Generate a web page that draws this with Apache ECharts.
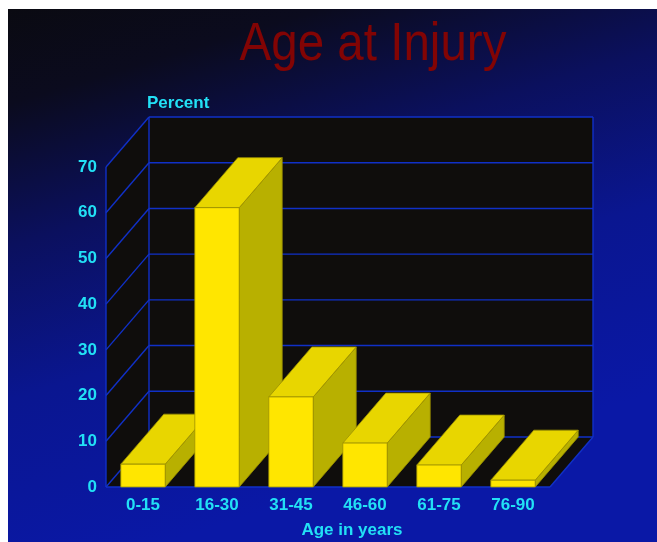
<!DOCTYPE html>
<html lang="en">
<head>
    <meta charset="UTF-8">
    <title>Age at Injury</title>
    <style>
        html, body { margin: 0; padding: 0; background: #fff; }
        #main { width: 657px; height: 542px; }
    </style>
</head>
<body>
<div id="main"></div>
<script src="https://cdn.jsdelivr.net/npm/echarts@6/dist/echarts.min.js"></script>
<script>
    const categories = ['0-15', '16-30', '31-45', '46-60', '61-75', '76-90'];
    const percent = [5, 61.1, 19.7, 9.6, 4.8, 1.5];
    const yTicks = [0, 10, 20, 30, 40, 50, 60, 70];

    // depth of the fake 3d box, in pixels
    const DX = 43, DY = -50;
    const CYAN = '#22e0f5';
    const GRIDBLUE = '#1030c8';
    const LABEL_FONT = '"Liberation Sans", Arial, sans-serif';

    const myChart = echarts.init(document.getElementById('main'));

    // walls, floor and back grid
    function renderWalls(params, api) {
        const band = api.size([1, 0])[0];
        const xl = api.coord([0, 0])[0] - band / 2;
        const xr = api.coord([categories.length - 1, 0])[0] + band / 2;
        const y0 = api.coord([0, yTicks[0]])[1];
        const yTop = api.coord([0, yTicks[yTicks.length - 1]])[1];
        const fill = '#0f0d0c';
        const line = { stroke: GRIDBLUE, lineWidth: 1.4 };
        const children = [
            // back wall
            { type: 'rect', shape: { x: xl + DX, y: yTop + DY, width: xr - xl, height: y0 - yTop }, style: { fill: fill } },
            // side wall
            { type: 'polygon', shape: { points: [[xl, y0], [xl, yTop], [xl + DX, yTop + DY], [xl + DX, y0 + DY]] }, style: { fill: fill } },
            // floor
            { type: 'polygon', shape: { points: [[xl, y0], [xr, y0], [xr + DX, y0 + DY], [xl + DX, y0 + DY]] }, style: { fill: fill } }
        ];
        yTicks.forEach(function (v) {
            const y = api.coord([0, v])[1];
            children.push({ type: 'line', shape: { x1: xl, y1: y, x2: xl + DX, y2: y + DY }, style: line });
            children.push({ type: 'line', shape: { x1: xl + DX, y1: y + DY, x2: xr + DX, y2: y + DY }, style: line });
        });
        children.push({ type: 'line', shape: { x1: xl, y1: y0, x2: xl, y2: yTop }, style: line });
        children.push({ type: 'line', shape: { x1: xl + DX, y1: y0 + DY, x2: xl + DX, y2: yTop + DY }, style: line });
        children.push({ type: 'line', shape: { x1: xr + DX, y1: y0 + DY, x2: xr + DX, y2: yTop + DY }, style: line });
        children.push({ type: 'line', shape: { x1: xl, y1: y0, x2: xr, y2: y0 }, style: line });
        children.push({ type: 'line', shape: { x1: xr, y1: y0, x2: xr + DX, y2: y0 + DY }, style: line });
        return { type: 'group', children: children };
    }

    // one box per category
    function renderBar(params, api) {
        const idx = api.value(0);
        const base = api.coord([idx, 0]);
        const top = api.coord([idx, api.value(1)]);
        const w = api.size([1, 0])[0] * 0.6;
        const x0 = base[0] - w / 2, x1 = base[0] + w / 2;
        const yb = base[1], yt = top[1];
        const edge = '#9c9000';
        return {
            type: 'group',
            children: [
                { type: 'polygon', shape: { points: [[x1, yt], [x1, yb], [x1 + DX, yb + DY], [x1 + DX, yt + DY]] },
                  style: { fill: '#b8b000', stroke: edge, lineWidth: 0.8 } },
                { type: 'polygon', shape: { points: [[x0, yt], [x1, yt], [x1 + DX, yt + DY], [x0 + DX, yt + DY]] },
                  style: { fill: '#e8d600', stroke: edge, lineWidth: 0.8 } },
                { type: 'rect', shape: { x: x0, y: yt, width: w, height: yb - yt },
                  style: { fill: '#ffe600', stroke: edge, lineWidth: 0.8 } }
            ]
        };
    }

    const option = {
        backgroundColor: {
            type: 'linear', x: 0, y: 0, x2: 0.25, y2: 1,
            colorStops: [
                { offset: 0, color: '#0a0a10' },
                { offset: 0.18, color: '#0b0b1e' },
                { offset: 0.42, color: '#0b105e' },
                { offset: 0.68, color: '#0a1690' },
                { offset: 1, color: '#0a18a6' }
            ]
        },
        animation: false,
        grid: { left: 106, right: 107, top: 167, bottom: 55 },
        xAxis: {
            type: 'category',
            data: categories,
            axisLine: { show: false },
            axisTick: { show: false },
            axisLabel: { color: CYAN, fontSize: 17, fontWeight: 'bold', fontFamily: LABEL_FONT, margin: 10 }
        },
        yAxis: {
            type: 'value',
            min: 0,
            max: 70,
            interval: 10,
            axisLine: { show: false },
            axisTick: { show: false },
            splitLine: { show: false },
            axisLabel: { color: CYAN, fontSize: 17, fontWeight: 'bold', fontFamily: LABEL_FONT, margin: 9 }
        },
        series: [
            { type: 'custom', z: 1, renderItem: renderWalls, data: [[0, 0]], clip: false, silent: true },
            { type: 'custom', z: 2, renderItem: renderBar, data: percent.map(function (v, i) { return [i, v]; }), clip: false }
        ],
        graphic: [
            { type: 'text', x: 373, y: 45, scaleX: 0.88,
              style: { text: 'Age at Injury', fill: '#820404', font: '54px "Liberation Sans", Arial, sans-serif', align: 'center', verticalAlign: 'middle' } },
            { type: 'text', x: 147, y: 103,
              style: { text: 'Percent', fill: CYAN, font: 'bold 17px "Liberation Sans", Arial, sans-serif', align: 'left', verticalAlign: 'middle' } },
            { type: 'text', x: 352, y: 530,
              style: { text: 'Age in years', fill: CYAN, font: 'bold 17px "Liberation Sans", Arial, sans-serif', align: 'center', verticalAlign: 'middle' } },
            // white scan border
            { type: 'rect', z: 100, shape: { x: 0, y: 0, width: 657, height: 9 }, style: { fill: '#ffffff' } },
            { type: 'rect', z: 100, shape: { x: 0, y: 0, width: 8, height: 542 }, style: { fill: '#ffffff' } }
        ]
    };
    myChart.setOption(option);
</script>
</body>
</html>
